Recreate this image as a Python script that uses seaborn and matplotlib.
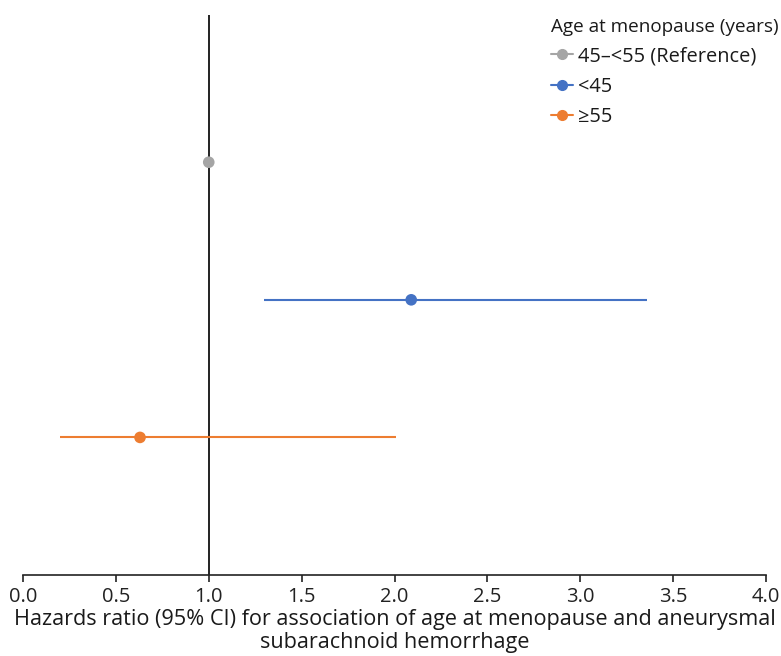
import numpy as np
import pandas as pd
import matplotlib
matplotlib.use('Agg')
import matplotlib.pyplot as plt
from matplotlib.lines import Line2D
import seaborn as sns

groups = ['45–<55 (Reference)', '<45', '≥55']
hr = [1.00, 2.09, 0.63]
ci_low = [np.nan, 1.30, 0.20]
ci_high = [np.nan, 3.36, 2.01]
colors = ['#A5A5A5', '#4472C4', '#ED7D31']
legend_title = 'Age at menopause (years)'
xlabel = 'Hazards ratio (95% CI) for association of age at menopause and aneurysmal\nsubarachnoid hemorrhage'
xticks = [0.0, 0.5, 1.0, 1.5, 2.0, 2.5, 3.0, 3.5, 4.0]


def main():
    sns.set_style('white')
    plt.rcParams['font.family'] = ['Open Sans', 'DejaVu Sans']
    plt.rcParams['text.color'] = '#1a1a1a'

    df = pd.DataFrame({'group': groups, 'hr': hr, 'lo': ci_low, 'hi': ci_high})
    df['ypos'] = np.arange(len(df), 0, -1)

    fig = plt.figure(figsize=(7.81, 6.56), dpi=100)
    ax = fig.add_axes([23 / 781, 1 - 575 / 656, 743 / 781, 560 / 656])

    ci = df.dropna()
    ax.hlines(ci['ypos'], ci['lo'], ci['hi'],
              colors=[colors[groups.index(g)] for g in ci['group']], lw=1.5, zorder=2)
    ax.axvline(1.0, color='#222222', lw=1.4, zorder=1)
    sns.scatterplot(data=df, x='hr', y='ypos', hue='group', palette=colors,
                    s=70, edgecolor='none', legend=False, ax=ax, zorder=3)

    ax.set_xlim(0, 4)
    ax.set_ylim(0, 4.07)
    ax.set_xticks(xticks)
    ax.set_xticklabels(['%.1f' % t for t in xticks], fontsize=14.5, color='#1a1a1a')
    ax.set_yticks([])
    ax.set_ylabel('')
    ax.set_xlabel(xlabel, fontsize=15.6, labelpad=1, color='#1a1a1a', linespacing=1.12)
    ax.tick_params(axis='x', direction='out', length=5, width=1.2, colors='#222222',
                   bottom=True, pad=4)
    for side in ['top', 'right', 'left']:
        ax.spines[side].set_visible(False)
    ax.spines['bottom'].set_color('#222222')
    ax.spines['bottom'].set_linewidth(1.2)

    handles = [Line2D([0], [0], color=c, marker='o', markersize=7, lw=1.5) for c in colors]
    leg = ax.legend(handles, groups, title=legend_title, loc='upper left',
                    bbox_to_anchor=(0.711, 0.995), frameon=False, fontsize=14.4,
                    title_fontsize=13.6, handlelength=1.1, handletextpad=0.25,
                    labelspacing=0.52, borderpad=0, borderaxespad=0)
    leg._legend_box.align = 'left'

    fig.savefig('out.png', dpi=100)
    plt.close(fig)


if __name__ == '__main__':
    main()
